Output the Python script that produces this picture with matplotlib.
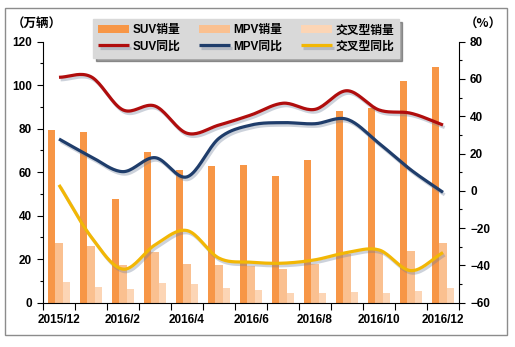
import numpy as np
import matplotlib.pyplot as plt
import matplotlib.patheffects as pe
from matplotlib.patches import Rectangle
from matplotlib.ticker import MultipleLocator

plt.rcParams['font.family'] = ['Liberation Sans', 'Noto Sans CJK SC']
plt.rcParams['font.weight'] = 'bold'

# --- DATA ---
months = ['2015/12', '2016/1', '2016/2', '2016/3', '2016/4', '2016/5', '2016/6',
          '2016/7', '2016/8', '2016/9', '2016/10', '2016/11', '2016/12']
suv_sales = [79.4, 78.5, 47.7, 69.3, 61.0, 63.0, 63.3, 58.4, 65.6, 88.1, 89.5, 102.0, 108.4]
mpv_sales = [27.6, 26.0, 17.3, 23.5, 17.8, 17.5, 16.9, 15.5, 18.0, 22.6, 24.2, 24.0, 27.6]
cross_sales = [9.7, 7.1, 6.2, 9.2, 8.6, 6.6, 5.8, 4.5, 4.6, 5.0, 4.6, 5.4, 6.6]
suv_yoy = [60.9, 61.2, 43.4, 45.5, 30.9, 35.3, 40.7, 47.0, 43.7, 53.7, 43.4, 41.6, 35.3]
mpv_yoy = [27.8, 18.3, 10.3, 17.8, 7.5, 28.2, 35.3, 36.6, 36.0, 38.4, 25.5, 11.2, -0.8]
cross_yoy = [3.2, -24.6, -42.0, -29.0, -21.3, -36.1, -38.3, -38.8, -37.0, -33.1, -31.7, -42.8, -33.1]

C_SUV, C_MPV, C_CROSS = '#F79646', '#FAC090', '#FCD5B5'
L_SUV, L_MPV, L_CROSS = '#B00D0D', '#1F3D6B', '#F2B705'


def smooth(x, y, n=20):
    # Catmull-Rom curve through the points, like the "smoothed line" option in Excel
    x = np.asarray(x, float)
    y = np.asarray(y, float)
    px = np.concatenate([[2 * x[0] - x[1]], x, [2 * x[-1] - x[-2]]])
    py = np.concatenate([[2 * y[0] - y[1]], y, [2 * y[-1] - y[-2]]])
    xs, ys = [], []
    t = np.linspace(0, 1, n, endpoint=False)
    for i in range(1, len(px) - 2):
        for p, out in ((px, xs), (py, ys)):
            p0, p1, p2, p3 = p[i - 1], p[i], p[i + 1], p[i + 2]
            out.extend(0.5 * (2 * p1 + (-p0 + p2) * t + (2 * p0 - 5 * p1 + 4 * p2 - p3) * t ** 2
                              + (-p0 + 3 * p1 - 3 * p2 + p3) * t ** 3))
    xs.append(x[-1])
    ys.append(y[-1])
    return np.array(xs), np.array(ys)


fig = plt.figure(figsize=(5.15, 3.47), dpi=100)
fig.patch.set_facecolor('white')
fig.add_artist(Rectangle((5 / 515, 1 - 335 / 347), 502 / 515, 327 / 347,
                         transform=fig.transFigure, fill=False, edgecolor='#8C8C8C', lw=1.0))

ax = fig.add_axes([43 / 515, 1 - 302.7 / 347, 416 / 515, 261 / 347])
x = np.arange(len(months))
w = 0.22
b1 = ax.bar(x - w, suv_sales, w, color=C_SUV, label='SUV销量', zorder=2)
b2 = ax.bar(x, mpv_sales, w, color=C_MPV, label='MPV销量', zorder=2)
b3 = ax.bar(x + w, cross_sales, w, color=C_CROSS, label='交叉型销量', zorder=2)

ax.set_xlim(-0.5, len(months) - 0.5)
ax.set_ylim(0, 120)
ax.yaxis.set_major_locator(MultipleLocator(20))
ax.yaxis.set_minor_locator(MultipleLocator(10))
ax.set_xticks(np.arange(-0.5, len(months)), labels=[''] * (len(months) + 1))
ax.set_xticks(x[::2], labels=months[::2], minor=True)
ax.tick_params(axis='x', which='major', length=5, width=0.8, direction='out')
ax.tick_params(axis='x', which='minor', length=0, pad=8, labelsize=8.5)
ax.tick_params(axis='y', which='major', length=4, width=0.8, pad=4, labelsize=8.5)
ax.tick_params(axis='y', which='minor', length=2.5, width=0.8)
for s in ('top', 'right'):
    ax.spines[s].set_visible(False)

ax2 = ax.twinx()
ax2.set_ylim(-60, 80)
ax2.yaxis.set_major_locator(MultipleLocator(20))
ax2.yaxis.set_minor_locator(MultipleLocator(10))
ax2.tick_params(axis='y', which='major', length=4, width=0.8, pad=4, labelsize=8.5)
ax2.tick_params(axis='y', which='minor', length=2.5, width=0.8)
for s in ('top', 'left', 'bottom'):
    ax2.spines[s].set_visible(False)

shadow = [pe.SimpleLineShadow(offset=(1.2, -1.8), shadow_color='#6F7F99', alpha=0.35),
          pe.Normal()]
lines = []
for vals, col, lab in ((suv_yoy, L_SUV, 'SUV同比'), (mpv_yoy, L_MPV, 'MPV同比'),
                       (cross_yoy, L_CROSS, '交叉型同比')):
    sx, sy = smooth(x, vals)
    ln, = ax2.plot(sx, sy, color=col, lw=2.3, solid_capstyle='butt', label=lab,
                   path_effects=shadow, zorder=3)
    lines.append(ln)

fig.text(12 / 515, 1 - 24 / 347, '（万辆）', fontsize=9, va='center', ha='left',
         family=['Noto Sans CJK SC'], fontweight='bold')
fig.text(465 / 515, 1 - 24 / 347, '（%）', fontsize=9, va='center', ha='left',
         family=['Noto Sans CJK SC'], fontweight='bold')

handles = [b1, lines[0], b2, lines[1], b3, lines[2]]
leg = ax2.legend(handles, [h.get_label() for h in handles], ncol=3,
                 loc='upper left', bbox_to_anchor=(93 / 515, 1 - 19 / 347),
                 bbox_transform=fig.transFigure, frameon=True, shadow=True,
                 fontsize=8.5, handlelength=2.6, handleheight=0.6, handletextpad=0.3,
                 columnspacing=1.6, labelspacing=0.35, borderpad=0.45, borderaxespad=0,
                 fancybox=False)
leg.get_frame().set_facecolor('#D9D9D9')
leg.get_frame().set_edgecolor('#D9D9D9')
leg.set_zorder(10)

fig.savefig('out.png', dpi=100)
